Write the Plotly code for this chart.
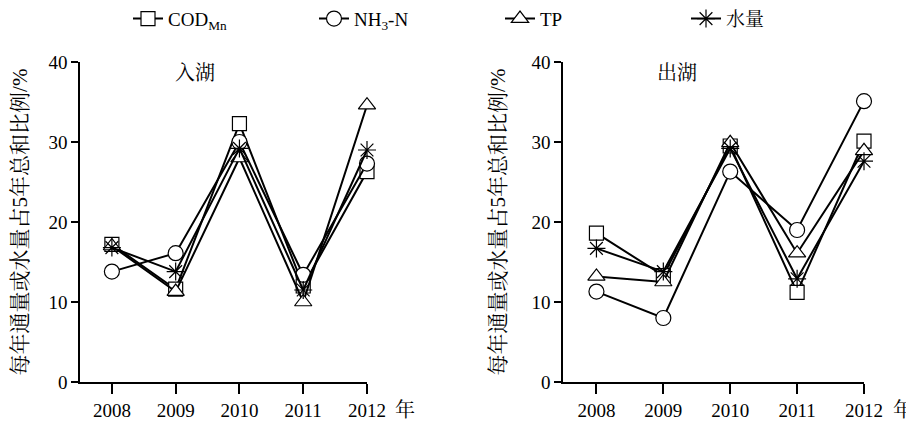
import plotly.graph_objects as go

years = [2008, 2009, 2010, 2011, 2012]
series_names = ["COD<sub>Mn</sub>", "NH<sub>3</sub>-N", "TP", "水量"]

# 入湖 (inflow)
in_cod = [17.2, 11.6, 32.3, 12.0, 26.3]
in_nh3 = [13.8, 16.1, 30.0, 13.4, 27.3]
in_tp = [17.0, 11.3, 28.0, 10.0, 34.6]
in_water = [16.8, 13.8, 29.2, 11.5, 29.0]

# 出湖 (outflow)
out_cod = [18.6, 13.3, 29.5, 11.2, 30.1]
out_nh3 = [11.3, 8.0, 26.3, 19.0, 35.1]
out_tp = [13.2, 12.5, 29.9, 16.1, 28.9]
out_water = [16.7, 13.8, 29.2, 12.9, 27.6]

panel_titles = ["入湖", "出湖"]
y_title = "每年通量或水量占5年总和比例/%"
year_unit = "年"

FONT = "Liberation Serif, Noto Serif CJK SC, Noto Sans CJK SC"

symbols = ["square", "circle", "triangle-up", "asterisk-open"]
sizes = [14, 15, 15, 15]
fills = ["white", "white", "white", "black"]

fig = go.Figure()

panels = [
    (in_cod, in_nh3, in_tp, in_water),
    (out_cod, out_nh3, out_tp, out_water),
]
for p, data in enumerate(panels):
    xa = "x" if p == 0 else "x2"
    ya = "y" if p == 0 else "y2"
    for i, vals in enumerate(data):
        fig.add_trace(go.Scatter(
            x=years, y=vals, xaxis=xa, yaxis=ya,
            mode="lines+markers",
            name=series_names[i],
            showlegend=(p == 0),
            legendgroup=str(i),
            line=dict(color="black", width=2),
            marker=dict(symbol=symbols[i], size=sizes[i], color=fills[i],
                        line=dict(color="black", width=1.2)),
            cliponaxis=False,
        ))

axis_common = dict(
    showline=True, linecolor="black", linewidth=1.5,
    showgrid=False, zeroline=False, automargin=False,
    ticks="outside", tickcolor="black", tickwidth=1.5,
    tickfont=dict(family=FONT, size=19, color="black"),
)

# page body has an 8px margin; work in figure coordinates
W = 906
H = 413
ydom = [(H - 374) / H, (H - 54) / H]
title_font = dict(family=FONT, size=21, color="black")
cjk_font = dict(family=FONT, size=20, color="black")

fig.update_layout(
    width=W, height=H,
    margin=dict(l=0, r=0, t=0, b=0, autoexpand=False),
    plot_bgcolor="white", paper_bgcolor="white",
    font=dict(family=FONT, size=19, color="black"),
    xaxis=dict(domain=[72 / W, 359 / W], range=[2007.5, 2012],
               tickvals=years, ticklen=10, anchor="y", **axis_common),
    yaxis=dict(domain=ydom, range=[0, 40], tickvals=[0, 10, 20, 30, 40],
               ticklen=7, anchor="x",
               title=dict(text=y_title, font=title_font, standoff=20),
               **axis_common),
    xaxis2=dict(domain=[555 / W, 856 / W], range=[2007.5, 2012],
                tickvals=years, ticklen=10, anchor="y2", **axis_common),
    yaxis2=dict(domain=ydom, range=[0, 40], tickvals=[0, 10, 20, 30, 40],
                ticklen=7, anchor="x2",
                title=dict(text=y_title, font=title_font, standoff=20),
                **axis_common),
    legend=dict(orientation="h", x=120 / W, xanchor="left", y=1.02, yanchor="top",
                font=dict(family=FONT, size=19, color="black"),
                entrywidth=141, entrywidthmode="pixels",
                bgcolor="rgba(0,0,0,0)"),
    showlegend=True,
)

fig.add_annotation(text=panel_titles[0], x=2009.3, y=38.6, xref="x", yref="y",
                   showarrow=False, font=cjk_font)
fig.add_annotation(text=panel_titles[1], x=2009.2, y=38.6, xref="x2", yref="y2",
                   showarrow=False, font=cjk_font)
fig.add_annotation(text=year_unit, x=397 / W, y=(H - 402) / H, xref="paper", yref="paper",
                   xanchor="center", yanchor="middle", showarrow=False, font=cjk_font)
fig.add_annotation(text=year_unit, x=895 / W, y=(H - 402) / H, xref="paper", yref="paper",
                   xanchor="center", yanchor="middle", showarrow=False, font=cjk_font)

fig.write_html("out.html")
